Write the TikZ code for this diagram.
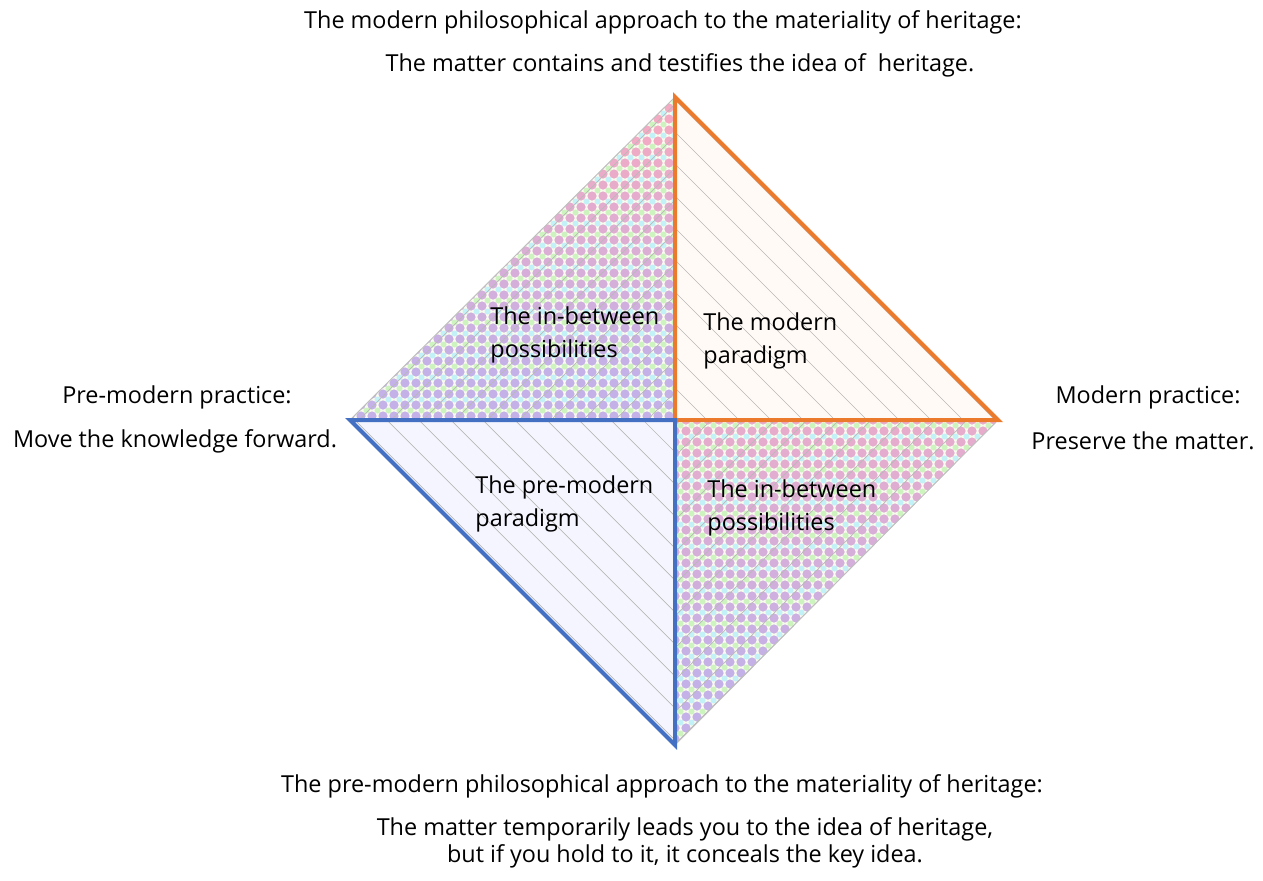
\documentclass[tikz,border=0pt]{standalone}
\usepackage{fontspec}
\setmainfont{Open Sans}
\usepackage{xcolor}
\usepackage{tikz}
\usetikzlibrary{calc, positioning}

\definecolor{modernorange}{HTML}{EC7A2C}
\definecolor{premodblue}{HTML}{4470C4}
\definecolor{dotpink}{HTML}{F4AAC2}
\definecolor{dotviolet}{HTML}{BDB2EC}
\definecolor{dotgreen}{HTML}{CDF4BE}
\definecolor{dotcyan}{HTML}{C2F2F8}
\definecolor{dotback}{HTML}{F8FBEE}

\begin{document}
\begin{tikzpicture}[
		x=0.5pt, y=-0.5pt,
		txt/.style={inner sep=0pt, font=\fontsize{11.7}{13.5}\selectfont},
		inner/.style={txt, align=left, anchor=north west, font=\fontsize{11.7}{16.5}\selectfont},
		hatch/.style={draw=gray!55, line width=0.35pt},
		paradigm/.style={line width=2pt, line join=miter},
		]

		\useasboundingbox (0,0) rectangle (1263,880);

		% --- corners of the square ---
		\coordinate (T) at (675,97);
		\coordinate (L) at (350,420);
		\coordinate (R) at (998,420);
		\coordinate (B) at (675,745);
		\coordinate (C) at (675,420);

		% --- the in-between possibilities (dotted) ---
		\fill[dotback] (T) -- (L) -- (C) -- cycle;
		\fill[dotback] (C) -- (R) -- (B) -- cycle;
		\begin{scope}
			\clip (T) -- (L) -- (C) -- cycle (C) -- (R) -- (B) -- cycle;
			\foreach \j in {0,...,29} {
				\pgfmathtruncatemacro{\is}{max(0,28-\j)}
				\pgfmathtruncatemacro{\ie}{30-\j}
				\pgfmathtruncatemacro{\pp}{max(10,min(100,110-\j*4))}
				\pgfmathtruncatemacro{\pq}{max(10,min(100,80-\j*3))}
				\pgfmathtruncatemacro{\qq}{mod(\j,2)==0 ? 100 : 0}
				% upper left triangle
				\foreach \i in {\is,...,29} {
					\fill[dotgreen!\qq!dotcyan] (355.5+\i*11,102.5+\j*11) circle (3);
					\fill[dotpink!\pp!dotviolet] (350+\i*11,97+\j*11) circle (4.6);
				}
				% lower right triangle
				\foreach \i in {0,...,\ie} {
					\fill[dotgreen!\qq!dotcyan] (680.5+\i*11,425.5+\j*11) circle (3);
					\fill[dotpink!\pq!dotviolet] (675+\i*11,420+\j*11) circle (4.6);
				}
			}
			\foreach \k in {0,...,40}
				\draw[hatch] (350+\k*32-700,745) -- ++(700,-700);
		\end{scope}
		\draw[gray!50, line width=0.5pt] (T) -- (L) (R) -- (B);

		% --- the modern and pre-modern paradigms ---
		\fill[orange!4] (T) -- (C) -- (R) -- cycle;
		\fill[blue!4] (L) -- (C) -- (B) -- cycle;
		\begin{scope}
			\clip (T) -- (C) -- (R) -- cycle (L) -- (C) -- (B) -- cycle;
			\foreach \k in {0,...,23}
				\draw[hatch] (\k*32,97) -- ++(700,700);
		\end{scope}

		\draw[paradigm, draw=modernorange] (T) -- (C) -- (R) -- cycle;
		\draw[paradigm, draw=premodblue] (L) -- (C) -- (B) -- cycle;

		% --- labels inside ---
		\node[inner] (ib1) at (490,306) {The in-between\\possibilities};
		\node[inner] (mod) at (703,312) {The modern\\paradigm};
		\node[inner] (pre) at (475,475) {The pre-modern\\paradigm};
		\node[inner] (ib2) at (707,479) {The in-between\\possibilities};

		% --- texts around ---
		\node[txt] (top1) at (663,22) {The modern philosophical approach to the materiality of heritage:};
		\node[txt] (top2) at (680,65) {The matter contains and testifies the idea of\ \ heritage.};
		\node[txt] (left1) at (177,397) {Pre-modern practice:};
		\node[txt] (left2) at (175,441) {Move the knowledge forward.};
		\node[txt] (right1) at (1148,397) {Modern practice:};
		\node[txt] (right2) at (1143,441) {Preserve the matter.};
		\node[txt] (bot1) at (662,786) {The pre-modern philosophical approach to the materiality of heritage:};
		\node[txt, align=center] (bot2) at (685,843) {The matter temporarily leads you to the idea of heritage,\\but if you hold to it, it conceals the key idea.};

	\end{tikzpicture}
\end{document}
